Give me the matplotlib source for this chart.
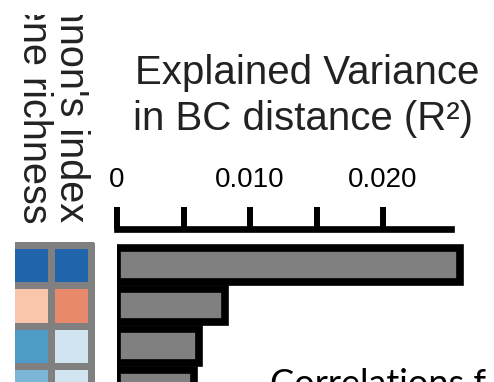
import matplotlib
matplotlib.use("Agg")
import matplotlib.pyplot as plt
import numpy as np

# explained variance (R^2) of BC distance, one bar per row
bar_values = [0.0258, 0.0081, 0.0062, 0.0058]

# correlation heatmap: columns = gene richness, Shannon's index
heat_columns = ["Gene richness", "Shannon's index"]
gene_richness = [-0.80, 0.28, -0.57, -0.46]
shannon_index = [-0.80, 0.48, -0.20, -0.20]

tick_values = [0, 0.005, 0.010, 0.015, 0.020]
tick_labels = ["0", "", "0.010", "", "0.020"]

W, H = 494, 382
fig = plt.figure(figsize=(W / 100, H / 100), dpi=100)


def px_box(x0, y0, x1, y1):
    # pixel box (top-left origin) -> figure fraction rect
    return [x0 / W, 1 - y1 / H, (x1 - x0) / W, (y1 - y0) / H]


row_px = 40.5      # spacing between rows in pixels
row0_px = 265.0    # centre of first row
rows = np.arange(len(bar_values))
y_bottom = (H - row0_px) / row_px

# bar chart
ax = fig.add_axes(px_box(117, 228.5, W, H))
ax.barh(rows, bar_values, height=0.83, color="#808080",
        edgecolor="black", linewidth=5.5, clip_on=True)
ax.set_xlim(0, (W - 117) / 13300)
ax.set_ylim(y_bottom, -(row0_px - 228.5) / row_px)
for s in ["left", "right", "bottom"]:
    ax.spines[s].set_visible(False)
ax.spines["top"].set_linewidth(4.8)
ax.spines["top"].set_bounds(0, 0.0251)
ax.spines["top"].set_capstyle("projecting")
ax.xaxis.tick_top()
ax.set_xticks(tick_values)
ax.set_xticklabels(tick_labels, fontsize=20, family="Liberation Sans")
ax.tick_params(axis="x", length=15.5, width=4.3, pad=10, color="black")
ax.set_yticks([])
ax.patch.set_visible(False)

# heatmap
hx = fig.add_axes(px_box(15, 241.25, 95, H))
heat = np.column_stack([gene_richness, shannon_index])
hx.pcolormesh(np.arange(heat.shape[1] + 1) - 0.5, np.arange(heat.shape[0] + 1) - 0.5,
              heat, cmap="RdBu_r", vmin=-1, vmax=1,
              edgecolors="#808080", linewidth=5)
hx.set_xlim((15 - 31) / 40, (95 - 31) / 40)
hx.set_ylim(y_bottom, -0.5 - 3.5 / row_px)
hx.axis("off")

# rotated column labels, clipped at the top like the source crop
lx = fig.add_axes(px_box(0, 15, 110, 240))
lx.set_xlim(0, 110)
lx.set_ylim(240, 15)
lx.axis("off")
for name, xb, ye in zip(heat_columns, [23, 60], [223, 222]):
    lx.text(xb, ye, name, rotation=-90, rotation_mode="anchor",
            ha="right", va="baseline", fontsize=28.5,
            family="Liberation Sans", color="#222222", clip_on=True)

# title
fig.text(135 / W, 1 - 84 / H, "Explained Variance", fontsize=29,
         family="Liberation Sans", color="#222222", va="baseline")
fig.text(133 / W, 1 - 130 / H, "in BC distance (R²)", fontsize=29,
         family="Liberation Sans", color="#222222", va="baseline")

# caption cut off at the bottom
fig.text(270 / W, 1 - 395 / H, "Correlations f", fontsize=26,
         family="Lato", color="black", va="baseline")

plt.savefig("out.png", dpi=100)
